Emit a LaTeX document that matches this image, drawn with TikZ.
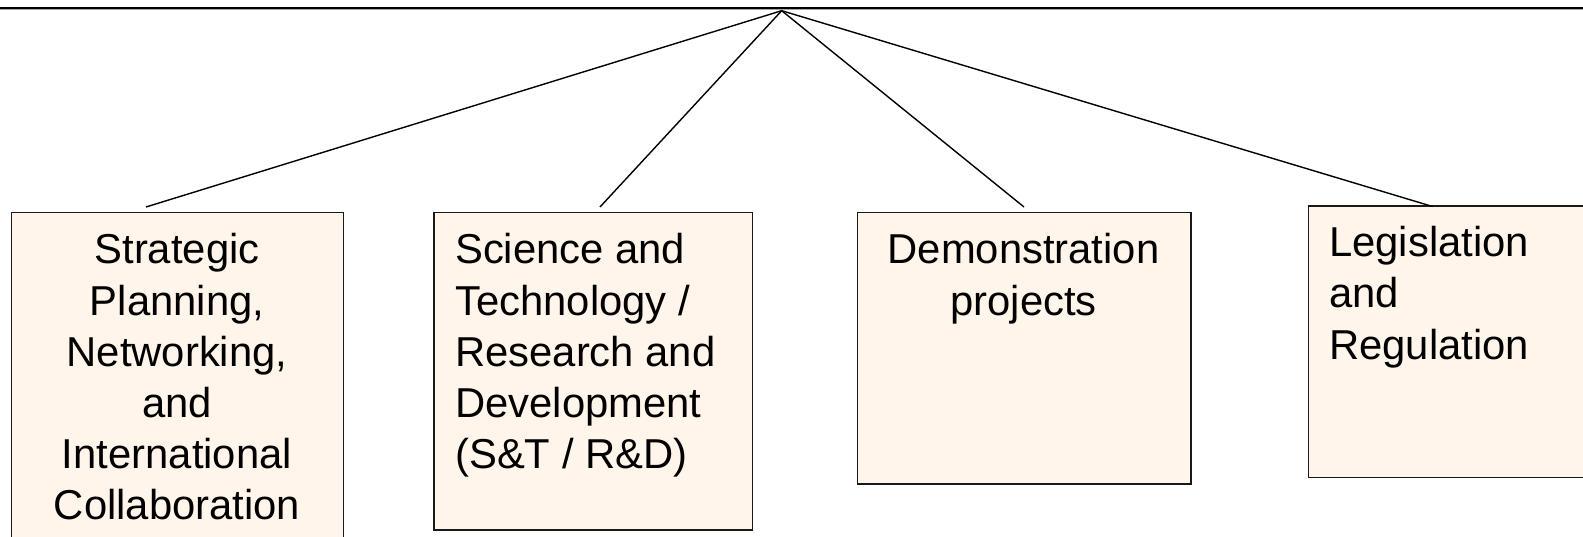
\documentclass[tikz,border=0pt]{standalone}
\usepackage{fontspec}
\setmainfont{Liberation Sans}
\definecolor{boxfill}{RGB}{255,245,234}
\begin{document}
\begin{tikzpicture}[x=1pt,y=-1pt,
  box/.style={draw=black!90,line width=1.4pt,fill=boxfill,inner sep=0pt,anchor=north west},
  conn/.style={draw=black,line width=1.4pt},
  txt/.style={inner sep=0pt,font=\fontsize{41.8}{51.2}\selectfont}]
\useasboundingbox (0,0) rectangle (1583,537);
\fill[white] (0,0) rectangle (1583,537);
% top rule
\draw[black!35,line width=1pt] (0,9.6) -- (1583,9.6);
\draw[black,line width=2pt] (0,8) -- (1583,8);
% boxes
\node[box,minimum width=332pt,minimum height=340pt] (b1) at (10.7,211.7) {};
\node[box,minimum width=318.5pt,minimum height=317.5pt] (b2) at (433.2,211.7) {};
\node[box,minimum width=333.5pt,minimum height=271.5pt] (b3) at (856.7,211.7) {};
\node[box,minimum width=290pt,minimum height=271.5pt] (b4) at (1307.7,205.2) {};
% texts
\node[txt,anchor=base] (t1) at (177,264) {\parbox[t]{320pt}{\centering Strategic\\Planning,\\Networking,\\and\\International\\Collaboration}};
\node[txt,anchor=base west] (t2) at (455,264) {\parbox[t]{300pt}{\raggedright Science and\\Technology /\\Research and\\Development\\(S\&T / R\&D)}};
\node[txt,anchor=base] (t3) at (1023.5,264) {\parbox[t]{320pt}{\centering Demonstration\\projects}};
\node[txt,anchor=base west] (t4) at (1329,256.7) {\parbox[t]{250pt}{\raggedright Legislation\\and\\Regulation}};
% connector ends
\coordinate (apex) at (781.7,10.7);
\coordinate (e1) at (146,207);
\coordinate (e2) at (600,207);
\coordinate (e3) at (1024,207);
\coordinate (e4) at (1432.5,206.5);
\draw[conn] (apex) -- (e1);
\draw[conn] (apex) -- (e2);
\draw[conn] (apex) -- (e3);
\draw[conn] (apex) -- (e4);
\end{tikzpicture}
\end{document}
